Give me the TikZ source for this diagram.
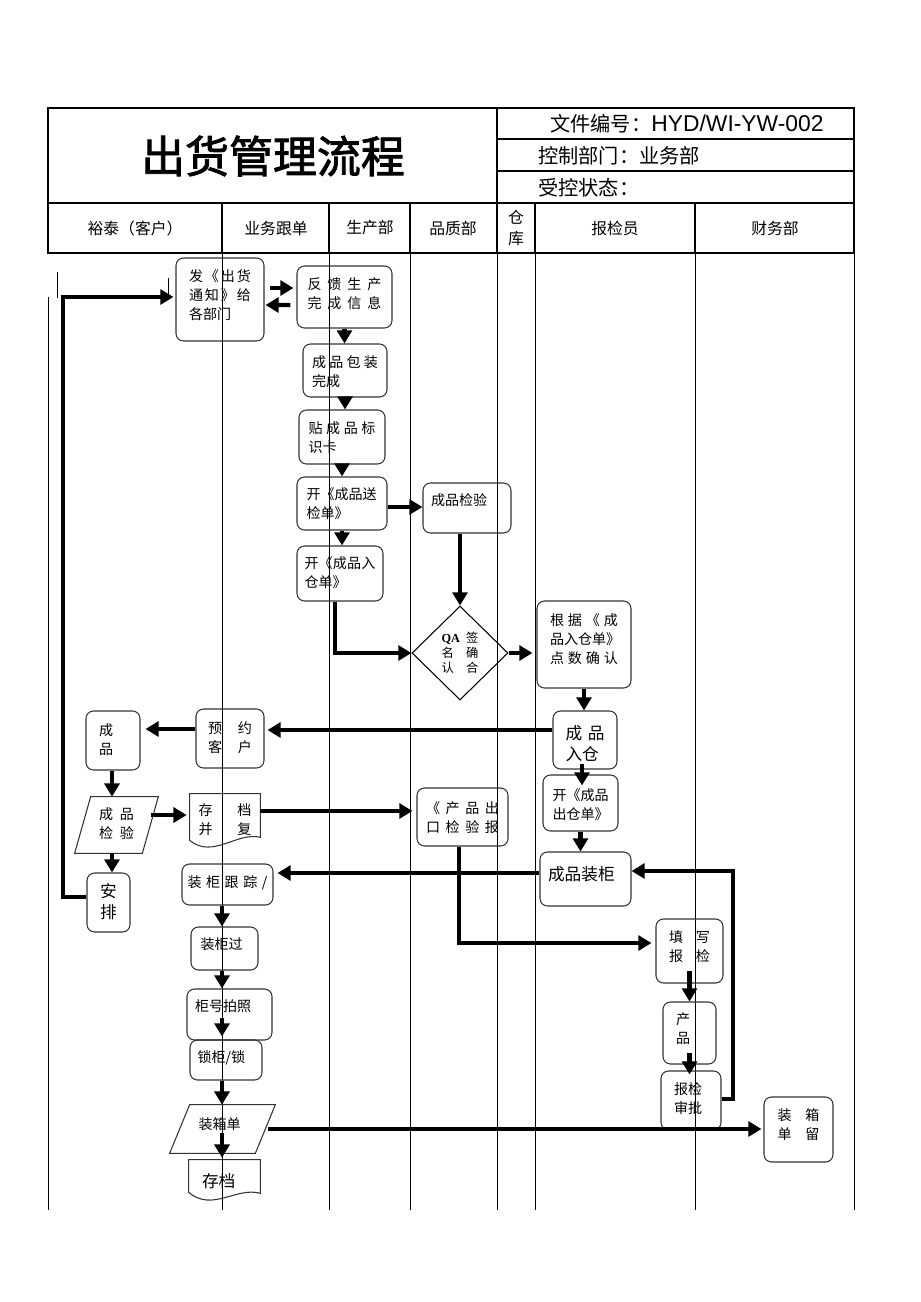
\documentclass[tikz,border=0pt]{standalone}
\usepackage{fontspec}
\setmainfont{Noto Sans CJK SC}
\newfontfamily\titlefont[FakeBold=2]{Noto Sans CJK SC}
\newfontfamily\qafont{Liberation Serif}
\newfontfamily\latinfont{Liberation Sans}
\usetikzlibrary{arrows.meta}
\usetikzlibrary{calc}
\usetikzlibrary{shapes.geometric}
\newlength\pxl
\setlength\pxl{0.02cm}
\newcommand{\bt}[3]{\parbox[c][#2\pxl][t]{#1\pxl}{#3}}

\tikzset{
  frame/.style={line width=0.8pt},
  lane/.style={line width=0.5pt},
  sz/.style 2 args={minimum width=#1\pxl, minimum height=#2\pxl},
  proc/.style={draw=black!80, line width=0.6pt, rounded corners=0.15cm, inner sep=0pt,
    font=\fontsize{8}{10.8}\selectfont},
  plain/.style={inner sep=0pt, font=\fontsize{8}{10.8}\selectfont},
  outl/.style={draw=black!80, line width=0.6pt},
  big/.style={font=\fontsize{9.5}{12}\selectfont},
  chk/.style={diamond, draw, line width=0.6pt, inner sep=0pt, font=\fontsize{7}{8.6}\selectfont},
  head/.style={font=\fontsize{9}{11}\selectfont},
  info/.style={anchor=west, inner sep=0pt, font=\fontsize{11.5}{14}\selectfont},
  arr/.style={line width=2.4pt, -{Triangle[length=7.5pt,width=8.5pt]}},
}

\begin{document}
\begin{tikzpicture}[x=0.02cm,y=-0.02cm]
\useasboundingbox (0,0) rectangle (920,1302);
% header table
\draw[frame] (48,108) rectangle (854,253);
\draw[frame] (497,108) -- (497,203);
\draw[frame] (497,139) -- (854,139);
\draw[frame] (497,171) -- (854,171);
\draw[frame] (48,203) -- (854,203);
\foreach \x in {222,329,410,497,535,695}
  \draw[frame] (\x,203) -- (\x,253);
\node[font=\titlefont\fontsize{25}{30}\selectfont] (title) at (273,156) {出货管理流程};
\node[info] (docno) at (550,124) {文件编号：{\latinfont\fontsize{13}{14}\selectfont HYD/WI-YW-002}};
\node[info] (ctrl) at (538,156) {控制部门：业务部};
\node[info] (state) at (538,188) {受控状态：};
\node[head] (hkh) at (135,228) {裕泰（客户）};
\node[head] (hyw) at (276,228) {业务跟单};
\node[head] (hsc) at (370,228) {生产部};
\node[head] (hpz) at (453,228) {品质部};
\node[head, align=center, font=\fontsize{9}{12}\selectfont] (hck) at (516,228) {仓\\库};
\node[head] (hbj) at (615,228) {报检员};
\node[head] (hcw) at (775,228) {财务部};
% lanes
\foreach \x in {222,329,410,497,535,695,854}
  \draw[lane] (\x,253) -- (\x,1210);
\draw[lane] (48,297) -- (48,1210);
\draw[lane] (57,272) -- (57,298);
\draw[lane] (168,278) -- (168,297);

% steps
\node[proc, sz={88}{83}] (tz) at (220,299.5) {\bt{62}{59}{发\hfill 《\hfill 出\hfill 货\\通\hfill 知\hfill 》\hfill 给\\各部门}};
\node[proc, sz={95}{62}] (fb) at (344.5,297) {\bt{74}{38}{反\hfill 馈\hfill 生\hfill 产\\完\hfill 成\hfill 信\hfill 息}};
\node[proc, sz={84}{53}] (bz) at (345,370.5) {\bt{66}{29}{成\hfill 品\hfill 包\hfill 装\\完成}};
\node[proc, sz={86}{54}] (bs) at (342,437) {\bt{67}{30}{贴\hfill 成\hfill 品\hfill 标\\识卡}};
\node[proc, sz={90}{53}] (sj) at (342,503.5) {\bt{71}{31}{开《成品送\\检单》}};
\node[proc, sz={86}{55}] (rc) at (340,573.5) {\bt{71}{33}{开\hfill 《\hfill 成\hfill 品\hfill 入\\仓单》}};
\node[proc, sz={88}{50}] (jy) at (467,508) {\bt{72}{28}{成品检验}};
\node[chk, sz={96}{94}] (qa) at (460,653) {\parbox{37\pxl}{{\qafont\bfseries QA}\hfill 签\\名\hfill 确\\认\hfill 合}};
\node[proc, sz={94}{87}] (qr) at (584,644.5) {\bt{68}{61}{根\hfill 据\hfill 《\hfill 成\\品入仓单》\\点\hfill 数\hfill 确\hfill 认}};
\node[proc, big, sz={64}{58}] (rk) at (585,740) {\bt{39}{30}{成\hfill 品\\入仓}};
\node[proc, sz={75}{56}] (cc) at (580.5,803) {\bt{56}{28}{开《成品\\出仓单》}};
\node[proc, big, sz={91}{54}] (zg) at (585.5,879) {\bt{75}{26}{成品装柜}};
\node[proc, sz={91}{58}] (bg) at (462.5,817) {\bt{73}{30}{《\hfill 产\hfill 品\hfill 出\\口\hfill 检\hfill 验\hfill 报}};
\node[proc, sz={68}{59}] (yy) at (230,738.5) {\bt{44}{33}{预\hfill 约\\客\hfill 户}};
\node[proc, sz={54}{59}] (yh) at (113,740.5) {\bt{28}{33}{成\\品}};
\node[plain, sz={83}{56}] (jb) at (116.5,825) {\bt{35}{34}{成\hfill 品\\检\hfill 验}};
\node[plain, sz={70}{53}] (cd) at (225,820.5) {\bt{53}{33}{存\hfill 档\\并\hfill 复}};
\node[proc, big, sz={43}{59}] (ap) at (108.5,902.5) {\bt{17}{39}{安\\排}};
\node[proc, sz={91}{41}] (gz) at (227.5,884.5) {\bt{80}{17}{装\hfill 柜\hfill 跟\hfill 踪\hfill /}};
\node[proc, sz={67}{43}] (gc) at (224.5,948.5) {\bt{48}{21}{装柜过}};
\node[proc, sz={85}{51}] (gh) at (229.5,1014.5) {\bt{69}{29}{柜号拍照}};
\node[proc, sz={72}{40}] (sg) at (226,1060) {\bt{57}{18}{锁柜/锁}};
\node[plain, sz={105}{48}] (zx) at (222.5,1129) {\bt{48}{22}{装箱单}};
\node[plain, big, sz={71}{40}] (cd2) at (224.5,1180) {\bt{45}{14}{存档}};
\node[proc, sz={67}{64}] (tx) at (689.5,951) {\bt{41}{40}{填\hfill 写\\报\hfill 检}};
\node[proc, sz={53}{62}] (cp) at (689.5,1033) {\bt{27}{40}{产\\品}};
\node[proc, sz={60}{59}] (sp) at (691,1100.5) {\bt{34}{35}{报检\\审批}};
\node[proc, sz={69}{65}] (ld) at (798.5,1129.5) {\bt{42}{41}{装\hfill 箱\\单\hfill 留}};

% parallelograms and documents
\draw[outl] ($(jb.north west)+(16,0)$) -- (jb.north east) -- ($(jb.south east)+(-16,0)$) -- (jb.south west) -- cycle;
\draw[outl] ($(zx.north west)+(20,0)$) -- (zx.north east) -- ($(zx.south east)+(-20,0)$) -- (zx.south west) -- cycle;
\draw[outl] (cd.north west) -- (cd.north east) -- ($(cd.south east)+(0,-10)$)
  .. controls ($(cd.south)+(12,-16)$) and ($(cd.south)+(-12,12)$) .. ($(cd.south west)+(0,-7)$) -- cycle;
\draw[outl] (cd2.north west) -- (cd2.north east) -- ($(cd2.south east)+(0,-7)$)
  .. controls ($(cd2.south)+(12,-14)$) and ($(cd2.south)+(-12,12)$) .. ($(cd2.south west)+(0,-8)$) -- cycle;

% flow
\coordinate (lp) at (63,297);
\coordinate (rp) at (733,871);
\coordinate (col) at (222,0);
\draw[arr] ($(tz.east)+(5,-11.5)$) -- ($(fb.west)+(-3,-9)$);
\draw[arr] ($(fb.west)+(-6,8)$) -- ($(tz.east)+(1,5.5)$);
\draw[arr] (fb.south) -- (fb.south |- bz.north);
\draw[arr] (bz.south) -- (bz.south |- bs.north);
\draw[arr] (bs.south) -- (bs.south |- sj.north);
\draw[arr] (sj.south) -- (sj.south |- rc.north);
\draw[arr] ($(sj.east)+(0,3.5)$) -- ($(sj.east -| jy.west)+(0,3.5)$);
\draw[arr] (qa.north |- jy.south) -- (qa.north);
\draw[arr] ($(rc.south)+(-5,0)$) |- (qa.west);
\draw[arr] (qa.east) -- ($(qa.east -| qr.west)+(-4,0)$);
\draw[arr] (qr.south) -- (qr.south |- rk.north);
\draw[arr] ($(rk.south)+(-3,-6)$) -- ($(rk.south |- cc.north)+(-3,11)$);
\draw[arr] (cc.south) -- (cc.south |- zg.north);
\draw[arr] ($(rk.west)+(0,-10)$) -- ($(yy.east)+(3,-8.5)$);
\draw[arr] ($(yy.west)+(0,-9.5)$) -- ($(yh.east)+(5,-11.5)$);
\draw[arr] ($(yh.south)+(-1,0)$) -- ($(yh.south |- jb.north)+(-1,0)$);
\draw[arr] ($(jb.east)+(-7,-10)$) -- ($(cd.west)+(-3,-5.5)$);
\draw[arr] ($(cd.east)+(0,-9.5)$) -- ($(bg.west)+(-4,-6)$);
\draw[arr] ($(jb.south)+(-4.5,0)$) -- ($(jb.south |- ap.north)+(-4.5,0)$);
\draw[arr] ($(ap.west)+(0,-5.5)$) -| (lp) -- ($(lp -| tz.west)+(-2,0)$);
\draw[arr] ($(zg.west)+(0,-6)$) -- ($(gz.east)+(4,-11.5)$);
\draw[arr] ($(bg.south)+(-3.5,0)$) |- ($(tx.west)+(-4,-8)$);
\draw[arr] (gz.south -| col) -- (gc.north -| col);
\draw[arr] (gc.south -| col) -- (gh.north -| col);
\draw[arr] ($(gh.south -| col)+(0,-23)$) -- ($(sg.north -| col)+(0,-3)$);
\draw[arr] (sg.south -| col) -- (zx.north -| col);
\draw[arr] ($(zx.south -| col)+(0,-20)$) -- ($(cd2.north -| col)+(0,-2)$);
\draw[arr] ($(zx.east)+(-7,0)$) -- ($(zx.east -| ld.west)+(-2,0)$);
\draw[arr] ($(tx.south)+(0,-13)$) -- (tx.south |- cp.north);
\draw[arr] ($(cp.south)+(0,-12)$) -- ($(cp.south |- sp.north)+(0,4)$);
\draw[arr] ($(sp.east)+(0,-1.5)$) -| (rp) -- (rp -| zg.east);
\end{tikzpicture}
\end{document}
